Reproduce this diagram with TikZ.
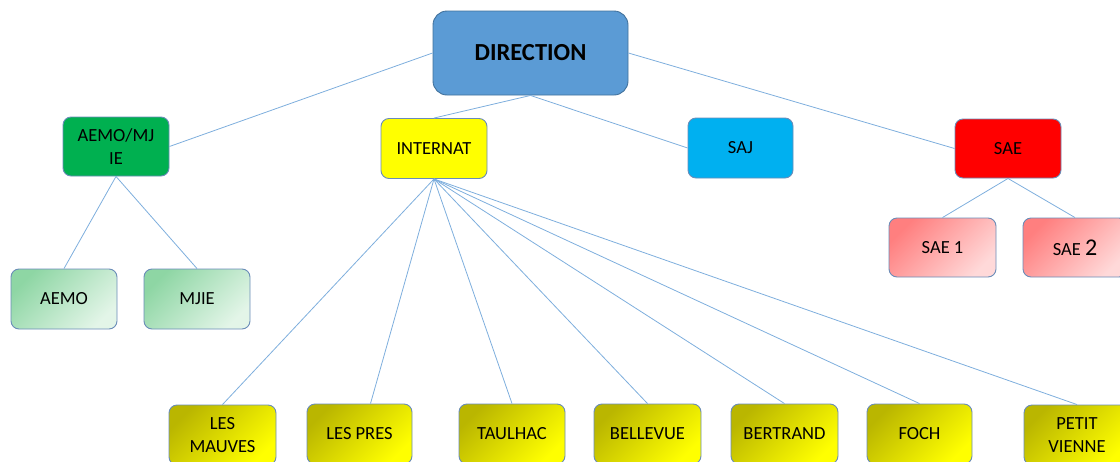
\documentclass[tikz,border=0pt]{standalone}
\usepackage{fontspec}
\setmainfont{Carlito}
\definecolor{boxline}{HTML}{6A8CB8}
\definecolor{dirline}{HTML}{41719C}
\definecolor{linkcol}{HTML}{7EAEDD}
\definecolor{dirfill}{HTML}{5B9BD5}
\definecolor{greenfill}{HTML}{00B050}
\definecolor{yellowfill}{HTML}{FFFF00}
\definecolor{cyanfill}{HTML}{00B0F0}
\definecolor{redfill}{HTML}{FF0000}
\definecolor{greenA}{HTML}{8ED6A4}
\definecolor{greenB}{HTML}{E3F5E8}
\definecolor{yellowA}{HTML}{BAB600}
\definecolor{yellowB}{HTML}{FFFF00}
\definecolor{pinkA}{HTML}{FF7F7F}
\definecolor{pinkB}{HTML}{FFD9D9}
\begin{document}
\begin{tikzpicture}[x=1pt,y=-1pt,
  box/.style={rectangle, rounded corners=8pt, draw=boxline, line width=0.9pt,
    minimum width=106pt, minimum height=59pt, inner sep=1pt, align=center,
    font=\fontsize{18.5}{22.5}\selectfont, text=black},
  headbox/.style={box, rounded corners=14pt, draw=dirline, fill=dirfill,
    minimum width=195pt, minimum height=84pt, font=\fontsize{24.5}{28}\selectfont\bfseries},
  greenbox/.style={box, fill=greenfill},
  yellowbox/.style={box, fill=yellowfill},
  cyanbox/.style={box, fill=cyanfill},
  redbox/.style={box, fill=redfill},
  mintbox/.style={box, top color=greenA, bottom color=greenB, shading angle=45},
  olivebox/.style={box, top color=yellowA, bottom color=yellowB, shading angle=45, minimum height=60pt},
  pinkbox/.style={box, top color=pinkA, bottom color=pinkB, shading angle=45},
  link/.style={draw=linkcol, line width=0.8pt}]
\useasboundingbox (0,0) rectangle (1120,461);
\clip (0,0) rectangle (1120,461);

% top level
\node[headbox] (dir) at (530.5,53) {DIRECTION};

% second level
\node[greenbox]  (aemomjie) at (116,146.5) {AEMO/MJ\\IE};
\node[yellowbox, minimum height=60pt] (internat) at (434,148.5) {INTERNAT};
\node[cyanbox, minimum width=105pt, minimum height=60pt] (saj) at (740.5,148) {SAJ};
\node[redbox]    (sae) at (1008,148.5) {SAE};

% services under AEMO/MJIE
\node[mintbox, minimum height=60pt] (aemo) at (64,299) {AEMO};
\node[mintbox, minimum height=60pt] (mjie) at (197,299) {MJIE};

% services under SAE
\node[pinkbox, minimum width=107pt] (sae1) at (942.5,247.5) {SAE 1};
\node[pinkbox, minimum width=104pt] (sae2) at (1075,247.5) {SAE {\fontsize{24}{24}\selectfont 2}};

% houses under INTERNAT
\node[olivebox, minimum width=107pt] (mauves)   at (222.5,435) {LES\\MAUVES};
\node[olivebox, minimum width=105pt] (pres)     at (359.5,434) {LES PRES};
\node[olivebox]                      (taulhac)  at (512,434)   {TAULHAC};
\node[olivebox, minimum width=107pt] (bellevue) at (647.5,434) {BELLEVUE};
\node[olivebox, minimum width=107pt] (bertrand) at (784.5,434) {BERTRAND};
\node[olivebox, minimum width=105pt] (foch)     at (919.5,434) {FOCH};
\node[olivebox]                      (petit)    at (1077,435)  {PETIT\\VIENNE};

% connectors
\draw[link] (dir.west) -- (aemomjie.east);
\draw[link] (dir.south) -- (internat.north);
\draw[link] (dir.south) -- (saj.west);
\draw[link] (dir.east) -- (sae.west);

\draw[link] (aemomjie.south) -- (aemo.north);
\draw[link] (aemomjie.south) -- (mjie.north);

\draw[link] (sae.south) -- (sae1.north);
\draw[link] (sae.south) -- (sae2.north);

\draw[link] (internat.south) -- (mauves.north);
\draw[link] (internat.south) -- ([xshift=11pt]pres.north);
\draw[link] (internat.south) -- (taulhac.north);
\draw[link] (internat.south) -- (bellevue.north);
\draw[link] (internat.south) -- (bertrand.north);
\draw[link] (internat.south) -- (foch.north);
\draw[link] (internat.south) -- (petit.north);
\end{tikzpicture}
\end{document}
